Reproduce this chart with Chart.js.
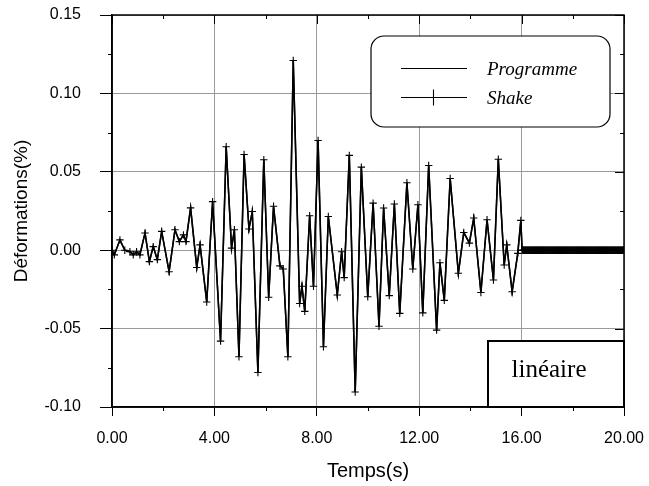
<!DOCTYPE html>
<html lang="fr">
<head>
<meta charset="UTF-8">
<script src="https://cdn.jsdelivr.net/npm/chart.js"></script>
<title>Déformations</title>
<style>
  body { margin: 0; background: #fff; }
</style>
</head>
<body>
<canvas id="deformChart" width="649" height="486"></canvas>
<script>
// values (turning points of the record)
const timeS = [0.00, 0.09, 0.31, 0.50, 0.70, 0.83, 0.96, 1.09, 1.29, 1.46, 1.61, 1.77, 1.94, 2.23, 2.46, 2.63, 2.79, 2.89, 3.07, 3.31,
  3.44, 3.70, 3.93, 4.24, 4.46, 4.67, 4.78, 4.96, 5.16, 5.35, 5.48, 5.70, 5.93, 6.12, 6.31, 6.56, 6.69, 6.87, 7.08, 7.33,
  7.42, 7.53, 7.72, 7.87, 8.05, 8.26, 8.45, 8.80, 8.97, 9.07, 9.27, 9.50, 9.74, 9.99, 10.20, 10.43, 10.61, 10.83, 11.03, 11.24,
  11.52, 11.75, 11.95, 12.14, 12.37, 12.68, 12.81, 12.98, 13.21, 13.53, 13.74, 13.96, 14.13, 14.41, 14.65, 14.90, 15.09, 15.32, 15.42, 15.63,
  15.85, 15.97, 16.02];
const programme = [0, -0.003, 0.0066, 0, -0.001, -0.003, -0.001, -0.003, 0.011, -0.0073, 0.0023, -0.006, 0.012, -0.0137, 0.013, 0.0055, 0.0098, 0.0055, 0.027, -0.011,
  0.0034, -0.033, 0.031, -0.058, 0.066, 0.0013, 0.013, -0.068, 0.061, 0.0135, 0.0247, -0.078, 0.0577, -0.030, 0.028, -0.010, -0.012, -0.068, 0.121, -0.034,
  -0.023, -0.039, 0.022, -0.023, 0.070, -0.0616, 0.0215, -0.0286, -0.001, -0.0175, 0.0605, -0.0904, 0.053, -0.0297, 0.030, -0.0485, 0.0269, -0.029, 0.0295, -0.0403,
  0.043, -0.012, 0.029, -0.040, 0.054, -0.051, -0.008, -0.032, 0.0457, -0.0147, 0.0113, 0.0045, 0.0205, -0.027, 0.0194, -0.019, 0.058, -0.0094, 0.0034, -0.0265,
  -0.002, 0.019, 0];
const shake = [0, -0.003, 0.0066, 0, -0.001, -0.003, -0.001, -0.003, 0.011, -0.0073, 0.0023, -0.006, 0.012, -0.0137, 0.013, 0.0055, 0.0098, 0.0055, 0.027, -0.011,
  0.0034, -0.033, 0.031, -0.058, 0.066, 0.0013, 0.013, -0.068, 0.061, 0.0135, 0.0247, -0.078, 0.0577, -0.030, 0.028, -0.010, -0.012, -0.068, 0.121, -0.034,
  -0.023, -0.039, 0.022, -0.023, 0.070, -0.0616, 0.0215, -0.0286, -0.001, -0.0175, 0.0605, -0.0904, 0.053, -0.0297, 0.030, -0.0485, 0.0269, -0.029, 0.0295, -0.0403,
  0.043, -0.012, 0.029, -0.040, 0.054, -0.051, -0.008, -0.032, 0.0457, -0.0147, 0.0113, 0.0045, 0.0205, -0.027, 0.0194, -0.019, 0.058, -0.0094, 0.0034, -0.0265,
  -0.002, 0.019, 0];
// after 16 s the record stays at zero (Shake samples every 0.02 s)
const restValue = 0;
const restEnd = 20;
const shakeStep = 0.02;

const xTicks = [0, 4, 8, 12, 16, 20];
const xMinorTicks = [2, 6, 10, 14, 18];
const yTicks = [-0.10, -0.05, 0.00, 0.05, 0.10, 0.15];
const yMinorTicks = [-0.075, -0.025, 0.025, 0.075, 0.125];

const progData = timeS.map((t, i) => ({x: t, y: programme[i]}));
progData.push({x: restEnd, y: restValue});

const shakeData = timeS.map((t, i) => ({x: t, y: shake[i]}));
for (let k = 1; timeS[timeS.length - 1] + k * shakeStep <= restEnd + 1e-9; k++) {
    shakeData.push({x: timeS[timeS.length - 1] + k * shakeStep, y: restValue});
}

const fmt = v => Math.abs(v) < 1e-9 ? '0.00' : v.toFixed(2);

// no extra room for label overhang: the plot box is set by layout padding
function noPadding(s) {
    s.paddingTop = 0; s.paddingBottom = 0; s.paddingLeft = 0; s.paddingRight = 0;
}

// ticks, frame, legend and the "linéaire" label
const decorations = {
    id: 'decorations',
    beforeDraw(chart) {
        const ctx = chart.ctx;
        ctx.save();
        ctx.fillStyle = '#fff';
        ctx.fillRect(0, 0, chart.width, chart.height);
        ctx.restore();
    },
    afterDatasetsDraw(chart) {
        const ctx = chart.ctx;
        const a = chart.chartArea;
        const xs = chart.scales.x, ys = chart.scales.y;
        ctx.save();
        ctx.strokeStyle = '#000';
        ctx.lineWidth = 1;
        ctx.beginPath();
        xMinorTicks.forEach(v => {
            const px = Math.round(xs.getPixelForValue(v)) + 0.5;
            ctx.moveTo(px, a.bottom); ctx.lineTo(px, a.bottom + 4);
            ctx.moveTo(px, a.top); ctx.lineTo(px, a.top + 4);
        });
        xTicks.forEach(v => {
            const px = Math.round(xs.getPixelForValue(v)) + 0.5;
            ctx.moveTo(px, a.top); ctx.lineTo(px, a.top + 9);
        });
        yMinorTicks.forEach(v => {
            const py = Math.round(ys.getPixelForValue(v)) + 0.5;
            ctx.moveTo(a.left - 4, py); ctx.lineTo(a.left, py);
            ctx.moveTo(a.right - 4, py); ctx.lineTo(a.right, py);
        });
        yTicks.forEach(v => {
            const py = Math.round(ys.getPixelForValue(v)) + 0.5;
            ctx.moveTo(a.right - 9, py); ctx.lineTo(a.right, py);
        });
        ctx.stroke();

        ctx.lineWidth = 1.5;
        ctx.strokeRect(a.left, a.top, a.right - a.left, a.bottom - a.top);

        // legend box
        const lx = 371, ly = 36, lw = 239, lh = 91;
        ctx.beginPath();
        ctx.roundRect(lx, ly, lw, lh, 13);
        ctx.fillStyle = '#fff';
        ctx.fill();
        ctx.lineWidth = 1.2;
        ctx.stroke();

        const rows = [68, 97];
        chart.data.datasets.forEach((ds, i) => {
            const y = rows[i] + 0.5;
            ctx.beginPath();
            ctx.lineWidth = 1.1;
            ctx.moveTo(401, y); ctx.lineTo(467, y);
            if (ds.pointStyle === 'cross') {
                ctx.moveTo(433.5, y - 8); ctx.lineTo(433.5, y + 8);
            }
            ctx.stroke();
            ctx.fillStyle = '#000';
            ctx.font = 'italic 19px "Liberation Serif", serif';
            ctx.textBaseline = 'alphabetic';
            ctx.textAlign = 'left';
            ctx.fillText(ds.label, 487, rows[i] + 7);
        });

        // "linéaire" box
        const bx = 488, by = 341;
        ctx.beginPath();
        ctx.rect(bx, by, a.right - bx, a.bottom - by);
        ctx.fillStyle = '#fff';
        ctx.fill();
        ctx.lineWidth = 2;
        ctx.stroke();
        ctx.fillStyle = '#000';
        ctx.font = '25px "Liberation Serif", serif';
        ctx.textAlign = 'center';
        ctx.fillText('linéaire', (bx + a.right) / 2 - 7, 377);
        ctx.restore();
    }
};

const ctx = document.getElementById('deformChart').getContext('2d');
new Chart(ctx, {
    type: 'line',
    data: {
        datasets: [
            {
                label: 'Programme',
                data: progData,
                borderColor: '#000',
                borderWidth: 1.5,
                pointRadius: 0,
                tension: 0,
                pointStyle: 'line'
            },
            {
                label: 'Shake',
                data: shakeData,
                borderColor: '#000',
                borderWidth: 1.5,
                pointStyle: 'cross',
                pointRadius: 3.7,
                pointBorderWidth: 1.1,
                pointBorderColor: '#000',
                tension: 0
            }
        ]
    },
    options: {
        responsive: false,
        animation: false,
        devicePixelRatio: 1,
        layout: { padding: { top: 15, right: 25, left: 0, bottom: 0 } },
        plugins: { legend: { display: false }, tooltip: { enabled: false } },
        scales: {
            x: {
                type: 'linear',
                min: 0, max: 20,
                afterBuildTicks: s => { s.ticks = xTicks.map(v => ({value: v})); },
                afterFit: s => { s.height = 79; noPadding(s); },
                grid: { color: '#9a9a9a', lineWidth: 1, tickLength: 9, tickColor: '#000' },
                border: { color: '#000', width: 1.5 },
                ticks: {
                    color: '#000', padding: 13, maxRotation: 0,
                    font: { family: '"Liberation Sans", Arial, sans-serif', size: 16 },
                    callback: v => fmt(v)
                },
                title: {
                    display: true, text: 'Temps(s)', color: '#000',
                    font: { family: '"Liberation Sans", Arial, sans-serif', size: 20, lineHeight: 1 },
                    padding: { top: 0, bottom: 5 }
                }
            },
            y: {
                type: 'linear',
                min: -0.10, max: 0.15,
                afterBuildTicks: s => { s.ticks = yTicks.map(v => ({value: v})); },
                afterFit: s => { s.width = 112; noPadding(s); },
                grid: { color: '#9a9a9a', lineWidth: 1, tickLength: 12, tickColor: '#000' },
                border: { color: '#000', width: 1.5 },
                ticks: {
                    color: '#000', padding: 19,
                    font: { family: '"Liberation Sans", Arial, sans-serif', size: 16 },
                    callback: v => fmt(v)
                },
                title: {
                    display: true, text: 'Déformations(%)', color: '#000',
                    font: { family: '"Liberation Sans", Arial, sans-serif', size: 19, lineHeight: 1 },
                    padding: { top: 12, bottom: 0 }
                }
            }
        }
    },
    plugins: [decorations]
});
</script>
</body>
</html>
